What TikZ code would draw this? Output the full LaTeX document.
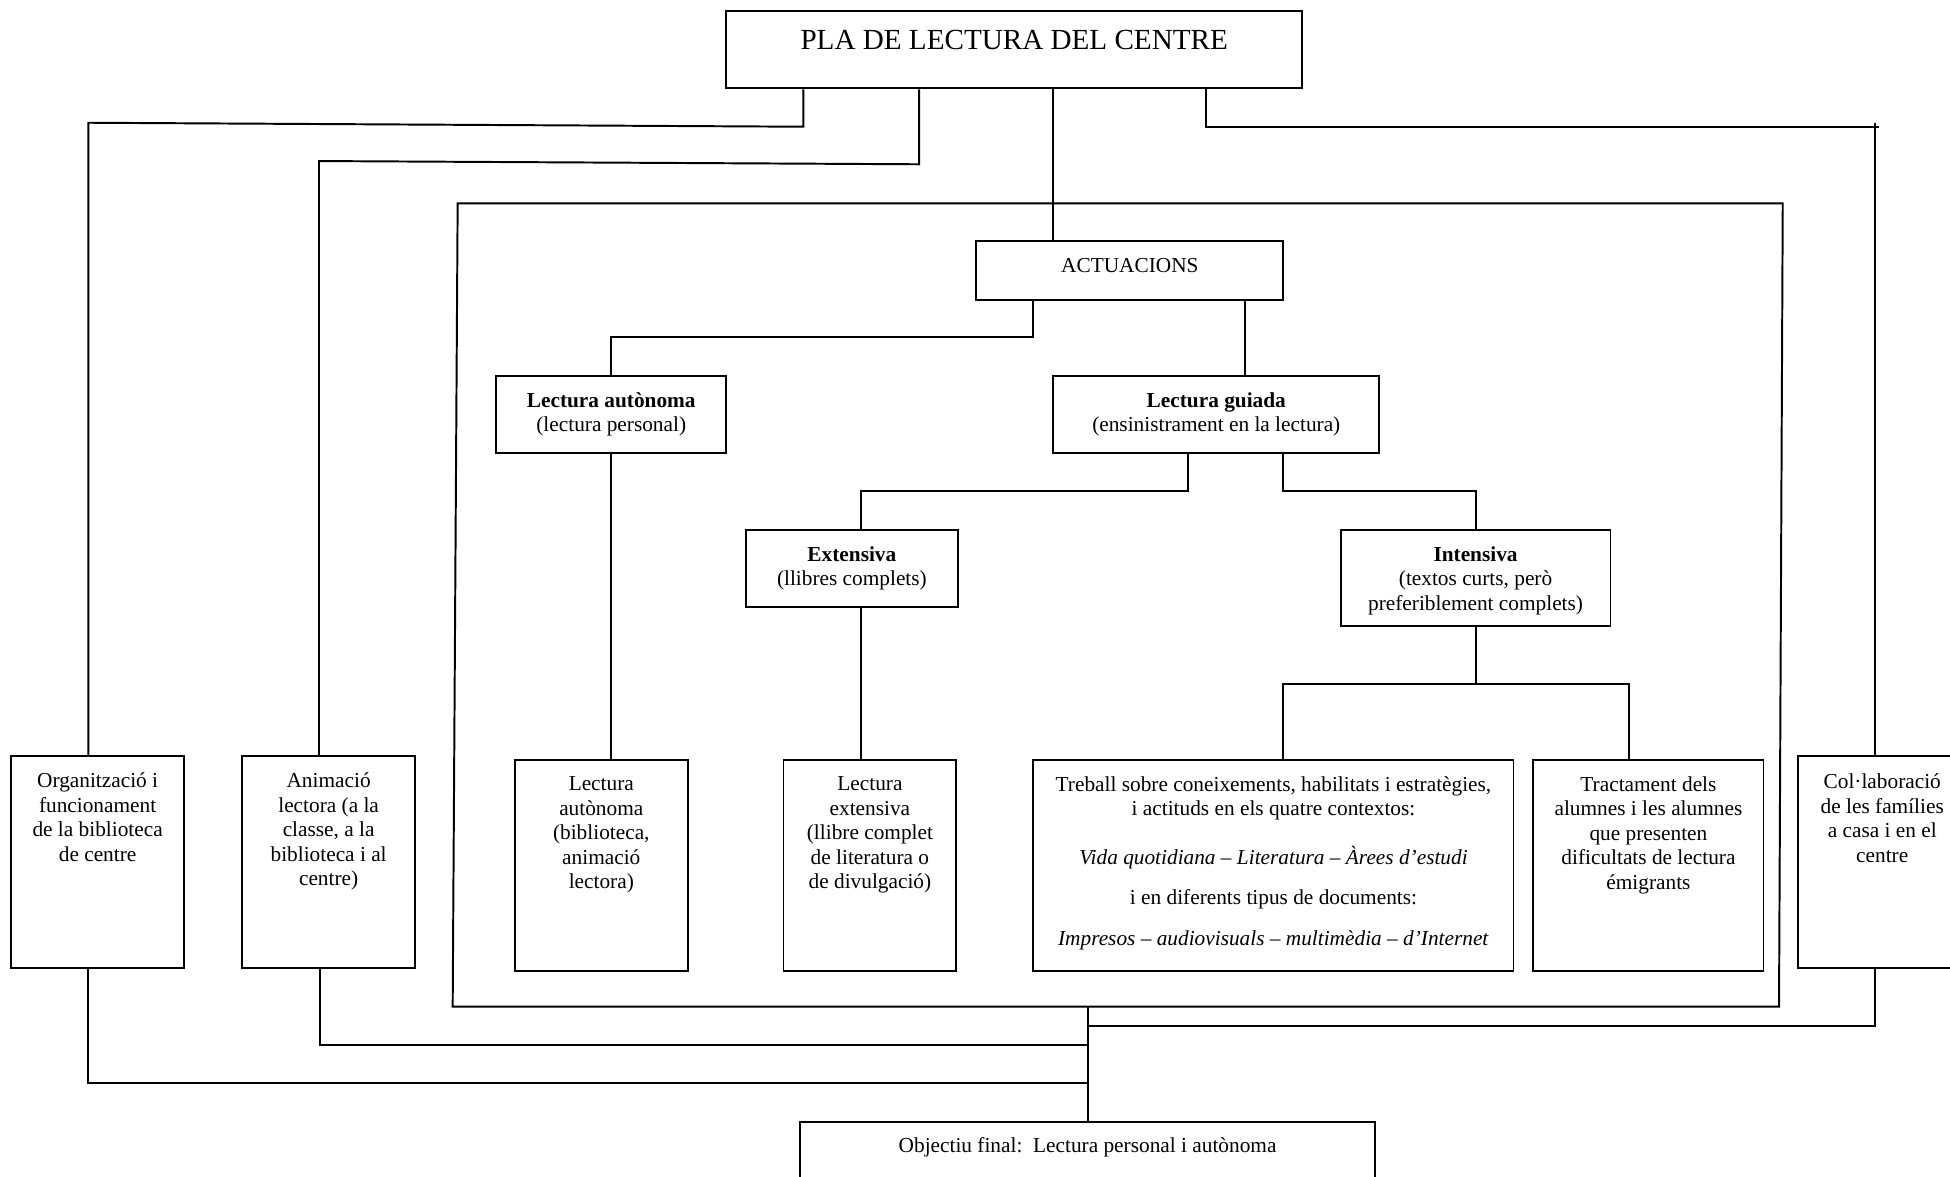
\documentclass[tikz,border=0pt]{standalone}
\usepackage{fontspec}
\setmainfont{Liberation Serif}
\usetikzlibrary{fit,calc}
\begin{document}
\begin{tikzpicture}[x=0.7pt,y=-0.7pt,
  box/.style={draw, line width=1.1pt, inner sep=0pt},
  link/.style={line width=1.1pt},
  txt/.style={inner sep=0pt, align=center, anchor=north,
    font=\fontsize{12}{13.8}\selectfont}]
\useasboundingbox (0,0) rectangle (1568,946);
\clip (0,0) rectangle (1568,946);

% ---- boxes ----
\node[box, fit={(584,9) (1047,71)}] (title) {};
\node[box, fit={(785,194) (1032,241)}] (act) {};
\node[box, fit={(399,302) (584,364)}] (la) {};
\node[box, fit={(847,302) (1109,364)}] (lg) {};
\node[box, fit={(600,426) (770,488)}] (ext) {};
\node[box, fit={(1078,426) (1295,503)}] (int) {};
\node[box, fit={(9,608) (148,778)}] (org) {};
\node[box, fit={(194.5,608) (334,778)}] (anim) {};
\node[box, fit={(414,611) (553,781)}] (la2) {};
\node[box, fit={(630,611) (769,781)}] (ext2) {};
\node[box, fit={(831,611) (1217,781)}] (tre) {};
\node[box, fit={(1233,611) (1418,781)}] (tra) {};
\node[box, fit={(1446,608) (1581,778)}] (colab) {};
\node[box, fit={(643,902.5) (1106,970)}] (obj) {};

% ---- texts ----
\node[txt, font=\fontsize{16.4}{19}\selectfont] (titleT) at ($(title.north)+(0,16)$) {PLA DE LECTURA DEL CENTRE};
\node[txt] (actT) at ($(act.north)+(0,14)$) {ACTUACIONS};
\node[txt] (laT) at ($(la.north)+(0,14)$) {\textbf{Lectura autònoma}\\(lectura personal)};
\node[txt] (lgT) at ($(lg.north)+(0,14)$) {\textbf{Lectura guiada}\\(ensinistrament en la lectura)};
\node[txt] (extT) at ($(ext.north)+(0,14)$) {\textbf{Extensiva}\\(llibres complets)};
\node[txt] (intT) at ($(int.north)+(0,14)$) {\textbf{Intensiva}\\(textos curts, però\\preferiblement complets)};
\node[txt] (orgT) at ($(org.north)+(0,14)$) {Organització i\\funcionament\\de la biblioteca\\de centre};
\node[txt] (animT) at ($(anim.north)+(0,14)$) {Animació\\lectora (a la\\classe, a la\\biblioteca i al\\centre)};
\node[txt] (la2T) at ($(la2.north)+(0,14)$) {Lectura\\autònoma\\(biblioteca,\\animació\\lectora)};
\node[txt] (ext2T) at ($(ext2.north)+(0,14)$) {Lectura\\extensiva\\(llibre complet\\de literatura o\\de divulgació)};
\node[txt] (treT) at ($(tre.north)+(0,14)$) {Treball sobre coneixements, habilitats i estratègies,\\i actituds en els quatre contextos:\\[13.5pt]
  \textit{Vida quotidiana – Literatura – Àrees d’estudi}\\[8.6pt]
  i en diferents tipus de documents:\\[9.3pt]
  \textit{Impresos – audiovisuals – multimèdia – d’Internet}};
\node[txt] (traT) at ($(tra.north)+(0,14)$) {Tractament dels\\alumnes i les alumnes\\que presenten\\dificultats de lectura\\émigrants};
\node[txt] (colabT) at (1513.5,622) {Col·laboració\\de les famílies\\a casa i en el\\centre};
\node[txt] (objT) at ($(obj.north)+(0,13)$) {Objectiu final:\ \ Lectura personal i autònoma};

% ---- frame around the actions ----
\coordinate (fTL) at (368,163.5);
\coordinate (fTR) at (1433.5,163.5);
\coordinate (fBR) at (1430.5,809.5);
\coordinate (fBL) at (364,809.5);
\draw[link] (fTL) -- (fTR) -- (fBR) -- (fBL) -- cycle;

% ---- connectors from the title ----
\coordinate (a1) at (646,101.9);
\coordinate (a2) at (71,98.7);
\draw[link] (title.south -| a1) -- (a1) -- (a2) -- (org.north -| a2);
\coordinate (b1) at (739,132.1);
\coordinate (b2) at (256.5,129.5);
\draw[link] (title.south -| b1) -- (b1) -- (b2) -- (anim.north -| b2);
\coordinate (c1) at (847,120);
\draw[link] (title.south -| c1) -- (act.north -| c1);
\coordinate (d1) at (970,101.9);
\coordinate (d2) at (1511,101.9);
\coordinate (d3) at (1508,98.7);
\draw[link] (title.south -| d1) -- (d1) -- (d2);
\draw[link] (d3) -- (colab.north -| d3);

% ---- actions tree ----
\coordinate (e1) at (831,271);
\draw[link] (act.south -| e1) -- (e1) -| (la.north);
\coordinate (f1) at (1001,271);
\draw[link] (act.south -| f1) -- (lg.north -| f1);
\coordinate (g1) at (955,395);
\coordinate (g2) at (692,395);
\draw[link] (lg.south -| g1) -- (g1) -- (g2) -- (ext.north -| g2);
\coordinate (h1) at (1032,395);
\coordinate (h2) at (1187,395);
\draw[link] (lg.south -| h1) -- (h1) -- (h2) -- (int.north -| h2);
\coordinate (i1) at (1187,550);
\coordinate (i2) at (1032,550);
\coordinate (i3) at (1310,550);
\draw[link] (int.south -| i1) -- (i1);
\draw[link] (tre.north -| i2) -- (i2) -- (i3) -- (tra.north -| i3);
\draw[link] (la.south) -- (la.south |- la2.north);
\draw[link] (ext.south -| g2) -- (ext2.north -| g2);

% ---- connectors to the final goal ----
\coordinate (m) at (875,809.5);
\draw[link] (m) -- (obj.north -| m);
\coordinate (k1) at (71,871);
\draw[link] (org.south -| k1) -- (k1) -- (k1 -| m);
\coordinate (n1) at (257,840.3);
\draw[link] (anim.south -| n1) -- (n1) -- (n1 -| m);
\coordinate (p1) at (1508,824.8);
\draw[link] (colab.south -| p1) -- (p1) -- (p1 -| m);
\end{tikzpicture}
\end{document}
